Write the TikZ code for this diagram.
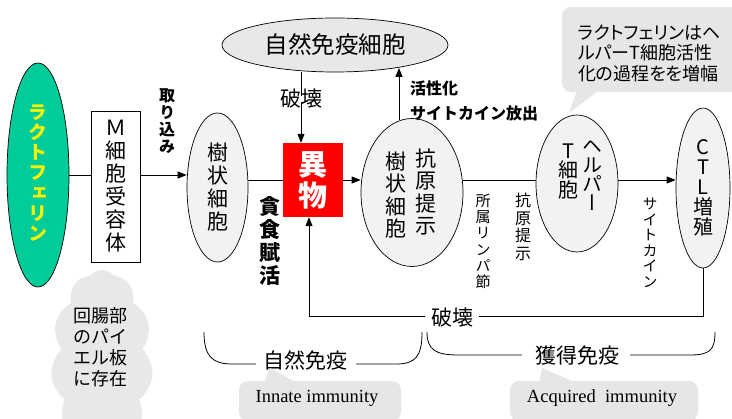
\documentclass[tikz,border=0pt]{standalone}
\usepackage{fontspec}
\setmainfont{Noto Sans CJK JP}
\newfontfamily\vjp[RawFeature=+vert]{Noto Sans CJK JP}
\newfontfamily\pjp[RawFeature=+palt]{Noto Sans CJK JP}
\newfontfamily\enserif{Liberation Serif}
\usetikzlibrary{shapes.geometric,shapes.symbols,arrows.meta,calc}
\newcommand\fs[2]{\fontsize{#1}{#2}\selectfont}
\definecolor{lfgreen}{HTML}{00CC99}
\definecolor{cellgray}{HTML}{F2F2F2}
\definecolor{nicgray}{HTML}{E8E8E8}
\definecolor{boxgray}{HTML}{E6E6E6}
\begin{document}
\begin{tikzpicture}[x=1pt,y=-1pt,
  ln/.style={line width=0.8pt},
  arr/.style={line width=0.8pt,-{Triangle[length=9pt,width=7pt]}},
  cell/.style={ellipse,draw,line width=0.7pt,fill=cellgray,inner sep=0pt,align=center},
  vt/.style={align=center,inner sep=0pt},
  note/.style={rounded corners=9pt,fill=boxgray,inner sep=0pt}]
\fill[white] (0,0) rectangle (732,419);
\useasboundingbox (0,0) rectangle (732,419);

% left side
\node[cell,fill=lfgreen,minimum width=62,minimum height=224] (lf) at (38,175) {};
\node[vt,text=yellow,font=\vjp\bfseries\fs{19}{20.3}] (lft) at (38,173) {ラ\\ク\\ト\\フ\\ェ\\リ\\ン};
\node[draw,fill=white,line width=0.7pt,minimum width=49,minimum height=151,inner sep=0pt,align=center,font=\vjp\fs{21}{23}] (mbox) at (115.5,186.5) {Ｍ\\細\\胞\\受\\容\\体};
\node[vt,font=\vjp\bfseries\fs{16}{17}] (tori) at (167,121) {取\\り\\込\\み};

% cells
\node[cell,minimum width=61,minimum height=149,font=\vjp\fs{21}{23}] (dc) at (217.5,187.5) {樹\\状\\細\\胞};
\node[fill=red,minimum width=60,minimum height=74,inner sep=0pt,align=center,text=white,font=\vjp\bfseries\fs{29}{31}] (ib) at (313,180) {異\\物};
\node[cell,minimum width=102,minimum height=148] (apc) at (412,192.5) {};
\node[vt,font=\vjp\fs{21}{22.5}] (apc1) at (426,192) {抗\\原\\提\\示};
\node[vt,font=\vjp\fs{21}{22.5}] (apc2) at (396,195) {樹\\状\\細\\胞};
\node[cell,minimum width=82,minimum height=137] (hp) at (577,183.5) {};
\node[vt,font=\vjp\fs{20}{19}] (hp1) at (592,176) {ヘ\\ル\\パ\\ー};
\node[vt,font=\vjp\fs{20}{19.5}] (hp2) at (568,171) {T\\細\\胞};
\node[cell,minimum width=54,minimum height=160,font=\vjp\fs{20}{20}] (ctl) at (703,188) {C\\T\\L\\増\\殖};
\node[cell,fill=nicgray,minimum width=226,minimum height=54,font=\fs{23.5}{25}] (nic) at (335,45) {自然免疫細胞};

% connectors
\draw[ln] (lf.east) -- (lf.east -| mbox.west);
\draw[arr] (mbox.east |- lf.east) -- (dc.west |- lf.east);
\draw[ln] (ib.west -| dc.east) -- (ib.west);
\draw[arr] (ib.east) -- (ib.east -| apc.west);
\draw[ln] (ib.east -| apc.east) -- (ib.east -| hp.west);
\draw[arr] (ib.east -| hp.east) -- (ib.east -| ctl.west);

\node[inner sep=0pt,font=\fs{21}{22}] (hk1) at (301,99) {破壊};
\draw[ln] (hk1 |- nic.south) -- ([yshift=-7pt]hk1.north);
\draw[arr] ([yshift=7pt]hk1.south) -- (hk1 |- ib.north);

\coordinate (ua) at (399,120);
\coordinate (ub) at (399,68);
\draw[arr] (ua) -- (ub);
\node[anchor=west,align=left,inner sep=0pt,font=\bfseries\fs{16}{25}] (act) at (410,101) {活性化\\サイトカイン放出};

\node[vt,font=\vjp\bfseries\fs{21}{23}] (don) at (270,241) {貪\\食\\賦\\活};
\node[vt,font=\vjp\fs{15}{16.3}] (lymph) at (483,241.5) {所\\属\\リ\\ン\\パ\\節};
\node[vt,font=\vjp\fs{16}{17.5}] (kg) at (523,227) {抗\\原\\提\\示};
\node[vt,font=\vjp\fs{15}{15.5}] (cyt) at (650,243) {サ\\イ\\ト\\カ\\イ\\ン};

\coordinate (bl) at (309,316);
\draw[arr] (ctl.south) |- (bl) -- (bl |- ib.south);
\node[fill=white,inner xsep=6pt,inner ysep=1pt,font=\fs{21}{22}] (hk2) at (452,318) {破壊};

% braces
\draw[ln] (204,332) .. controls (204,356) and (212,364) .. (232,364) -- (256,364);
\node[inner sep=0pt,font=\fs{21}{22}] (shz) at (305,360) {自然免疫};
\draw[ln] (356,364) -- (396,364) .. controls (416,364) and (422,356) .. (422,332);
\draw[ln] (427,332) .. controls (427,350) and (436,355) .. (458,355) -- (522,355);
\node[inner sep=0pt,font=\fs{21}{22}] (kak) at (577,356) {獲得免疫};
\draw[ln] (630,355) -- (690,355) .. controls (710,355) and (715,350) .. (715,332);

% notes
\node[note,minimum width=162,minimum height=40] (inb) at (320,401) {};
\fill[boxgray] (270,368) -- (262,388) -- (306,388) -- cycle;
\node[inner sep=0pt,font=\enserif\fs{18.5}{20}] (inn) at (317,398) {Innate immunity};
\node[note,minimum width=188,minimum height=40] (acb) at (604,401) {};
\fill[boxgray] (542,368) -- (538,388) -- (588,388) -- cycle;
\node[inner sep=0pt,font=\enserif\fs{18.5}{20}] (acq) at (602,398) {Acquired~~immunity};

\node[note,minimum width=178,minimum height=85] (tnb) at (651,49.5) {};
\fill[boxgray] (578,88) -- (602,88) -- (569,113) -- cycle;
\node[anchor=west,align=left,inner sep=0pt,font=\pjp\fs{18}{20.5}] (tnt) at (578,53) {ラクトフェリンはヘ\\ルパーT細胞活性\\化の過程をを増幅};

\node[cloud,cloud puffs=11,cloud puff arc=100,cloud ignores aspect,fill=nicgray,minimum width=102,minimum height=184,inner sep=0pt] (cl) at (102,362) {};
\node[vt,font=\fs{18}{21}] (clt) at (100,347) {回腸部\\のパイ\\エル板\\に存在};
\end{tikzpicture}
\end{document}
